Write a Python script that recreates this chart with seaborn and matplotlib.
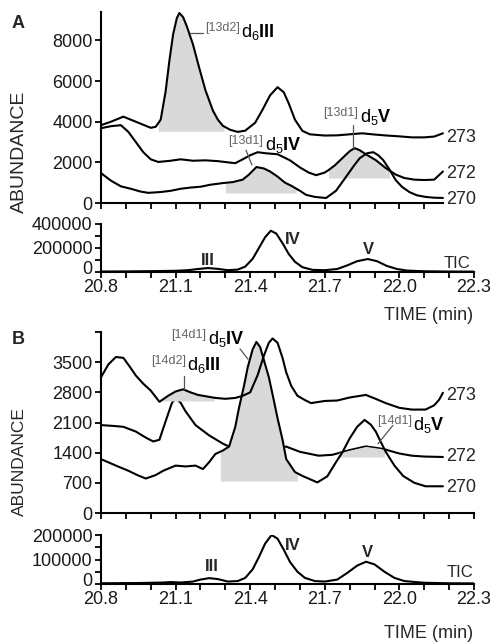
import numpy as np
import matplotlib
matplotlib.use("Agg")
import matplotlib.pyplot as plt
import matplotlib.transforms as mtransforms
import seaborn as sns

sns.set_style("ticks")
plt.rcParams["font.family"] = ["Liberation Sans", "DejaVu Sans"]
plt.rcParams["mathtext.fontset"] = "custom"
plt.rcParams["mathtext.rm"] = "Liberation Sans"
plt.rcParams["mathtext.bf"] = "Liberation Sans:bold"
plt.rcParams["mathtext.it"] = "Liberation Sans:italic"

# ---------------- Panel A (ion traces) ----------------
tA273 = [20.80, 20.84, 20.89, 20.93, 20.97, 21.00, 21.02, 21.04, 21.06, 21.075, 21.09, 21.105, 21.115,
         21.13, 21.145, 21.17, 21.195, 21.22, 21.25, 21.27, 21.29, 21.32, 21.35, 21.38, 21.42, 21.45,
         21.48, 21.51, 21.535, 21.555, 21.58, 21.61, 21.64, 21.70, 21.75, 21.80, 21.85, 21.90, 21.95,
         22.00, 22.05, 22.10, 22.14, 22.175]
yA273 = [3830, 4000, 4250, 4050, 3850, 3700, 3750, 4100, 5500, 7000, 8300, 9100, 9350,
         9150, 8700, 7800, 6650, 5550, 4550, 4100, 3800, 3600, 3500, 3560, 3950, 4600,
         5300, 5700, 5450, 4900, 4100, 3550, 3380, 3320, 3330, 3380, 3430, 3370, 3320,
         3280, 3230, 3230, 3270, 3430]

tA272 = [20.80, 20.84, 20.88, 20.91, 20.94, 20.97, 21.00, 21.03, 21.08, 21.12, 21.17, 21.22, 21.27,
         21.31, 21.34, 21.37, 21.40, 21.43, 21.46, 21.51, 21.56, 21.60, 21.635, 21.665, 21.70, 21.715,
         21.74, 21.77, 21.80, 21.82, 21.84, 21.865, 21.905, 21.945, 21.985, 22.02, 22.06, 22.10, 22.14, 22.175]
yA272 = [3680, 3780, 3830, 3500, 3000, 2500, 2150, 2020, 2080, 2150, 2080, 2100, 2060,
         2000, 1960, 2150, 2350, 2500, 2450, 2400, 2100, 1750, 1500, 1370, 1500, 1620,
         1850, 2200, 2550, 2700, 2600, 2400, 2110, 1720, 1400, 1230, 1150, 1130, 1150, 1550]

tA270 = [20.80, 20.84, 20.88, 20.92, 20.96, 20.99, 21.04, 21.08, 21.12, 21.16, 21.20, 21.24, 21.29,
         21.33, 21.37, 21.395, 21.425, 21.455, 21.48, 21.51, 21.54, 21.565, 21.60, 21.625, 21.66, 21.705,
         21.745, 21.785, 21.815, 21.84, 21.87, 21.895, 21.915, 21.935, 21.96, 21.985, 22.01, 22.04, 22.07,
         22.105, 22.14, 22.175]
yA270 = [1470, 1100, 820, 700, 560, 500, 540, 600, 700, 760, 800, 900, 980,
         1030, 1150, 1400, 1770, 1700, 1550, 1300, 1000, 850, 600, 400, 300, 245,
         600, 1280, 1800, 2200, 2450, 2500, 2350, 2110, 1650, 1130, 800, 540, 380,
         300, 260, 250]

tA_tic = [20.80, 20.90, 21.00, 21.10, 21.15, 21.19, 21.23, 21.27, 21.31, 21.35, 21.38, 21.41, 21.435,
          21.46, 21.483, 21.505, 21.53, 21.555, 21.58, 21.61, 21.65, 21.70, 21.75, 21.79, 21.83, 21.873,
          21.91, 21.95, 21.99, 22.03, 22.10, 22.20, 22.30]
yA_tic = [4000, 5000, 7000, 10000, 15000, 25000, 33000, 26000, 15000, 20000, 45000, 110000, 200000,
          290000, 344000, 320000, 240000, 150000, 85000, 40000, 18000, 15000, 25000, 55000, 90000, 108000,
          90000, 50000, 25000, 12000, 6000, 4000, 3000]

# ---------------- Panel B (ion traces) ----------------
tB273 = [20.80, 20.83, 20.86, 20.89, 20.915, 20.94, 20.97, 21.00, 21.035, 21.07, 21.10, 21.13, 21.16,
         21.19, 21.23, 21.26, 21.30, 21.34, 21.37, 21.40, 21.43, 21.455, 21.475, 21.49, 21.51, 21.53,
         21.545, 21.565, 21.59, 21.62, 21.645, 21.70, 21.75, 21.80, 21.865, 21.90, 21.945, 22.00, 22.05,
         22.105, 22.14, 22.16, 22.175]
yB273 = [3150, 3450, 3620, 3600, 3400, 3190, 3000, 2840, 2580, 2720, 2820, 2870, 2800,
         2740, 2700, 2670, 2650, 2670, 2720, 2800, 3200, 3650, 3950, 4050, 3950, 3600,
         3260, 2950, 2720, 2620, 2550, 2600, 2610, 2680, 2740, 2660, 2550, 2440, 2400,
         2400, 2500, 2630, 2790]

tB272 = [20.80, 20.85, 20.89, 20.94, 20.98, 21.01, 21.035, 21.05, 21.07, 21.085, 21.10, 21.12, 21.14,
         21.18, 21.235, 21.29, 21.315, 21.37, 21.43, 21.49, 21.545, 21.60, 21.675, 21.73, 21.80, 21.865,
         21.92, 21.945, 22.00, 22.05, 22.10, 22.175]
yB272 = [2040, 2020, 2000, 1890, 1750, 1660, 1700, 1960, 2300, 2550, 2670, 2560, 2360,
         2040, 1800, 1610, 1540, 1520, 1510, 1530, 1540, 1420, 1330, 1350, 1460, 1545,
         1500, 1470, 1380, 1330, 1310, 1300]

tB270 = [20.80, 20.86, 20.91, 20.95, 20.98, 21.02, 21.05, 21.10, 21.14, 21.18, 21.21, 21.235, 21.26,
         21.29, 21.315, 21.34, 21.355, 21.375, 21.39, 21.41, 21.425, 21.44, 21.455, 21.475, 21.49, 21.51,
         21.53, 21.545, 21.58, 21.61, 21.67, 21.71, 21.745, 21.77, 21.80, 21.83, 21.86, 21.885, 21.905,
         21.925, 21.945, 21.98, 22.015, 22.06, 22.105, 22.175]
yB270 = [1250, 1100, 980, 870, 800, 880, 980, 1100, 1080, 1100, 1020, 1180, 1370,
         1450, 1540, 2000, 2440, 2950, 3380, 3800, 3970, 3850, 3550, 3150, 2750, 2200,
         1700, 1250, 950, 860, 710, 850, 1180, 1400, 1730, 2000, 2160, 2050, 1890,
         1650, 1420, 1100, 860, 700, 620, 620]

tB_tic = [20.80, 20.95, 21.05, 21.08, 21.12, 21.17, 21.20, 21.235, 21.27, 21.31, 21.35, 21.38, 21.41,
          21.435, 21.46, 21.486, 21.51, 21.535, 21.56, 21.59, 21.62, 21.66, 21.70, 21.75, 21.79, 21.83,
          21.866, 21.90, 21.94, 21.98, 22.02, 22.10, 22.20, 22.30]
yB_tic = [3000, 4000, 6000, 8000, 6000, 10000, 18000, 24000, 20000, 10000, 12000, 25000, 60000,
          110000, 165000, 200000, 185000, 140000, 90000, 50000, 25000, 12000, 10000, 18000, 45000, 75000,
          91000, 80000, 50000, 25000, 12000, 5000, 3000, 2500]

xtick_vals = [20.8, 20.9, 21.0, 21.1, 21.2, 21.3, 21.4, 21.5, 21.6, 21.7, 21.8, 21.9, 22.0, 22.1, 22.2, 22.3]
xtick_text = ["20.8", "21.1", "21.4", "21.7", "22.0", "22.3"]
yticksA = [0, 2000, 4000, 6000, 8000]
yticksB = [0, 700, 1400, 2100, 2800, 3500]
ion_labels = ["273", "272", "270"]

# ---------------- figure ----------------
W, H = 493, 643
fig = plt.figure(figsize=(W / 100, H / 100), dpi=100)


def axes_px(x0, y_top, x1, y_bot):
    return fig.add_axes([x0 / W, 1 - y_bot / H, (x1 - x0) / W, (y_bot - y_top) / H])


X0, X1 = 101, 474
axA = axes_px(X0, 12, X1, 203)
axAt = axes_px(X0, 224, X1, 272)
axB = axes_px(X0, 332, X1, 513)
axBt = axes_px(X0, 535, X1, 584)

LW = 1.5
FILL = "#d9d9d9"
GRAYTXT = "#666666"


def trace(ax, t, y, z=3):
    sns.lineplot(x=t, y=y, ax=ax, color="black", lw=LW, estimator=None, zorder=z)


def shade(ax, t, y, t0, t1, base):
    tt = np.linspace(t0, t1, 300)
    yy = np.interp(tt, t, y)
    ax.fill_between(tt, base, np.maximum(yy, base), color=FILL, lw=0, zorder=2)


def style(ax, xend, ymax, yticks, ylabels, xlabels=False):
    for s in ["top", "right"]:
        ax.spines[s].set_visible(False)
    for s in ["left", "bottom"]:
        ax.spines[s].set_linewidth(1.5)
        ax.spines[s].set_color("black")
    ax.set_xlim(20.8, 22.3)
    ax.set_ylim(0, ymax)
    ax.spines["bottom"].set_bounds(20.8, xend)
    xt = [v for v in xtick_vals if v <= xend + 1e-6]
    ax.set_xticks(xt)
    if xlabels:
        ax.set_xticklabels([("%.1f" % v) if ("%.1f" % v) in xtick_text else "" for v in xt])
    else:
        ax.set_xticklabels([])
    ax.set_yticks(yticks)
    ax.set_yticklabels(ylabels)
    ax.tick_params(direction="out", length=4, width=1.3, color="black",
                   labelsize=13, labelcolor="#1a1a1a", pad=2)
    ax.tick_params(axis="x", pad=1)
    ax.set_xlabel("")
    ax.set_ylabel("")
    ax.patch.set_alpha(0)


def lift_zero_label(ax):
    off = mtransforms.ScaledTranslation(0, 3 / 72, fig.dpi_scale_trans)
    lab = ax.get_yticklabels()[0]
    lab.set_transform(lab.get_transform() + off)


def compound_label(ax, x, y, prefix, main, fs=13):
    ax.annotate(prefix, xy=(x, y), xytext=(-1, 4.5), textcoords="offset points",
                ha="right", va="baseline", fontsize=9, color=GRAYTXT)
    ax.annotate(main, xy=(x, y), ha="left", va="baseline", fontsize=fs, color="black")


def leader(ax, xs, ys):
    ax.plot(xs, ys, color="#555555", lw=0.9, zorder=4)


# ---- Panel A ----
shade(axA, tA273, yA273, 21.03, 21.295, 3530)
shade(axA, tA270, yA270, 21.30, 21.585, 490)
shade(axA, tA272, yA272, 21.715, 21.96, 1230)
trace(axA, tA273, yA273)
trace(axA, tA272, yA272)
trace(axA, tA270, yA270)
style(axA, 22.175, 9400, yticksA, [str(v) for v in yticksA])
for lab, yv in zip(ion_labels, [3240, 1470, 150]):
    axA.text(22.187, yv, lab, ha="left", va="center", fontsize=13)
compound_label(axA, 21.363, 8150, "[13d2]", r"d$_{6}$$\mathbf{III}$")
leader(axA, [21.158, 21.21], [8390, 8390])
compound_label(axA, 21.459, 2600, "[13d1]", r"d$_{5}$$\mathbf{IV}$")
leader(axA, [21.383, 21.407], [2600, 1865])
compound_label(axA, 21.841, 3975, "[13d1]", r"d$_{5}$$\mathbf{V}$")
leader(axA, [21.813, 21.813], [3830, 2700])

# ---- Panel A TIC ----
trace(axAt, tA_tic, yA_tic)
style(axAt, 22.3, 400000, [0, 100000, 200000, 300000, 400000],
      ["0", "", "200000", "", "400000"], xlabels=True)
lift_zero_label(axAt)
axAt.text(21.23, 95000, "III", ha="center", va="center", fontsize=12, fontweight="bold")
axAt.text(21.572, 267000, "IV", ha="center", va="center", fontsize=12, fontweight="bold")
axAt.text(21.874, 185000, "V", ha="center", va="center", fontsize=12, fontweight="bold")
axAt.text(22.231, 75000, "TIC", ha="center", va="center", fontsize=12)

# ---- Panel B ----
shade(axB, tB273, yB273, 21.04, 21.255, 2600)
shade(axB, tB270, yB270, 21.28, 21.59, 740)
shade(axB, tB272, yB272, 21.753, 21.94, 1300)
trace(axB, tB272, yB272, z=1)
trace(axB, tB273, yB273)
trace(axB, tB270, yB270)
style(axB, 22.3, 4200, yticksB + [4200], [str(v) for v in yticksB] + [""])
for lab, yv in zip(ion_labels, [2720, 1300, 590]):
    axB.text(22.187, yv, lab, ha="left", va="center", fontsize=13)
compound_label(axB, 21.146, 3311, "[14d2]", r"d$_{6}$$\mathbf{III}$")
leader(axB, [21.135, 21.135], [3180, 2880])
compound_label(axB, 21.230, 3926, "[14d1]", r"d$_{5}$$\mathbf{IV}$")
leader(axB, [21.359, 21.391], [3808, 3571])
compound_label(axB, 22.055, 1916, "[14d1]", r"d$_{5}$$\mathbf{V}$")
leader(axB, [21.914, 21.974], [1608, 2034])

# ---- Panel B TIC ----
trace(axBt, tB_tic, yB_tic)
style(axBt, 22.3, 200000, [0, 50000, 100000, 150000, 200000],
      ["0", "", "100000", "", "200000"], xlabels=True)
lift_zero_label(axBt)
axBt.text(21.246, 70000, "III", ha="center", va="center", fontsize=12, fontweight="bold")
axBt.text(21.572, 159000, "IV", ha="center", va="center", fontsize=12, fontweight="bold")
axBt.text(21.870, 127000, "V", ha="center", va="center", fontsize=12, fontweight="bold")
axBt.text(22.243, 45000, "TIC", ha="center", va="center", fontsize=12)

# ---- figure texts ----
fig.text(18 / W, 1 - 23 / H, "A", ha="center", va="center", fontsize=13, fontweight="bold")
fig.text(18 / W, 1 - 340 / H, "B", ha="center", va="center", fontsize=13, fontweight="bold")
fig.text(19.5 / W, 1 - 152 / H, "ABUNDANCE", rotation=90, ha="center", va="center", fontsize=14)
fig.text(19 / W, 1 - 462 / H, "ABUNDANCE", rotation=90, ha="center", va="center", fontsize=12.5)
fig.text(473 / W, 1 - 315 / H, "TIME (min)", ha="right", va="center", fontsize=13)
fig.text(473 / W, 1 - 633 / H, "TIME (min)", ha="right", va="center", fontsize=13)

fig.savefig("out.png", dpi=100)
